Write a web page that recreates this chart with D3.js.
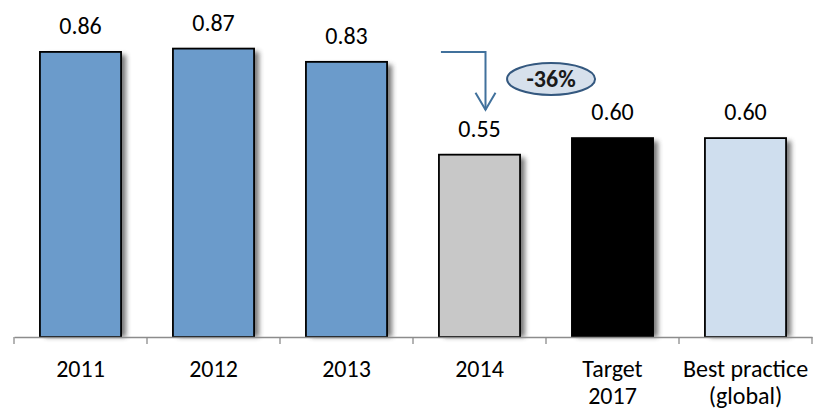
<!DOCTYPE html>
<html>
<head>
<meta charset="utf-8">
<script src="https://cdn.jsdelivr.net/npm/d3@7"></script>
<style>
  html, body { margin: 0; padding: 0; background: #fff; }
  svg { display: block; font-family: Carlito, Lato, "Open Sans", sans-serif; }
</style>
</head>
<body>
<svg id="chart" width="814" height="408"></svg>
<script>
// Data
const categories = ["2011", "2012", "2013", "2014", "Target\n2017", "Best practice\n(global)"];
const values = [0.86, 0.87, 0.83, 0.55, 0.60, 0.60];
const barColors = ["#6b9bcb", "#6b9bcb", "#6b9bcb", "#c8c8c8", "#000000", "#cfdeee"];
const changeLabel = "-36%";

const svg = d3.select("#chart");

const x = d3.scaleBand()
  .domain(categories)
  .range([14, 812])
  .paddingInner(0.39)
  .paddingOuter(0.195);

const y = d3.scaleLinear().domain([0, 1]).range([337, 5.5]);

// Soft shadow behind each bar
const defs = svg.append("defs");
const f = defs.append("filter").attr("id", "shadow")
  .attr("x", "-20%").attr("y", "-20%").attr("width", "150%").attr("height", "150%");
f.append("feGaussianBlur").attr("stdDeviation", 2.4);

const data = categories.map((c, i) => ({ c, v: values[i], color: barColors[i] }));

svg.append("g").selectAll("rect")
  .data(data).join("rect")
  .attr("x", d => x(d.c) + 5)
  .attr("y", d => y(d.v) + 3)
  .attr("width", x.bandwidth())
  .attr("height", d => y(0) - y(d.v) - 3)
  .attr("fill", "#6a6a6a")
  .attr("opacity", 0.9)
  .attr("filter", "url(#shadow)");

svg.append("g").selectAll("rect")
  .data(data).join("rect")
  .attr("x", d => x(d.c))
  .attr("y", d => y(d.v))
  .attr("width", x.bandwidth())
  .attr("height", d => y(0) - y(d.v))
  .attr("fill", d => d.color)
  .attr("stroke", "#000")
  .attr("stroke-width", 1.8);

// Value labels
svg.append("g").selectAll("text")
  .data(data).join("text")
  .attr("x", d => x(d.c) + x.bandwidth() / 2)
  .attr("y", d => y(d.v) - 18)
  .attr("text-anchor", "middle")
  .attr("font-size", 24)
  .attr("fill", "#000")
  .text(d => d.v.toFixed(2));

// Category axis
const axis = d3.axisBottom(x).tickSize(0).tickFormat("");
const gAxis = svg.append("g").attr("transform", `translate(0,${y(0)})`).call(axis);
gAxis.select(".domain").attr("stroke", "#8c8c8c").attr("stroke-width", 1.3);

// Separator ticks between categories
const bounds = categories.map(c => x(c) - x.step() * x.paddingInner() / 2);
bounds.push(x(categories[categories.length - 1]) + x.bandwidth() + x.step() * x.paddingInner() / 2);
svg.append("g").selectAll("line")
  .data(bounds).join("line")
  .attr("x1", d => d).attr("x2", d => d)
  .attr("y1", y(0)).attr("y2", y(0) + 7)
  .attr("stroke", "#8c8c8c").attr("stroke-width", 1.3);

// Category labels (multi-line)
const labels = svg.append("g").selectAll("text")
  .data(categories).join("text")
  .attr("x", d => x(d) + x.bandwidth() / 2)
  .attr("y", 377)
  .attr("text-anchor", "middle")
  .attr("font-size", 24)
  .attr("fill", "#000");
labels.each(function (d) {
  const t = d3.select(this);
  d.split("\n").forEach((line, i) => {
    t.append("tspan")
      .attr("x", x(d) + x.bandwidth() / 2)
      .attr("dy", i === 0 ? 0 : 27)
      .text(line);
  });
});

// Drop annotation: elbow arrow from the 2013 level down to 2014
const arrowColor = "#41719c";
const ax0 = x("2014") + 2, ax1 = x("2014") + x.bandwidth() / 2 + 6;
const ayTop = y(0.86), ayBot = y(0.55) - 45;
svg.append("path")
  .attr("d", `M${ax0},${ayTop} H${ax1} V${ayBot}`)
  .attr("fill", "none").attr("stroke", arrowColor).attr("stroke-width", 2);
svg.append("path")
  .attr("d", `M${ax1 - 10},${ayBot - 17} L${ax1},${ayBot} L${ax1 + 10},${ayBot - 17}`)
  .attr("fill", "none").attr("stroke", arrowColor).attr("stroke-width", 2);

// Percentage change badge
const bx = x("2014") + x.bandwidth() + 31, by = 79;
svg.append("ellipse")
  .attr("cx", bx).attr("cy", by).attr("rx", 44).attr("ry", 16)
  .attr("fill", "#d6e0ec").attr("stroke", "#34587f").attr("stroke-width", 2);
svg.append("text")
  .attr("x", bx).attr("y", by + 8)
  .attr("text-anchor", "middle")
  .attr("font-size", 24).attr("font-weight", "bold")
  .attr("fill", "#1a1a1a")
  .text(changeLabel);
</script>
</body>
</html>
